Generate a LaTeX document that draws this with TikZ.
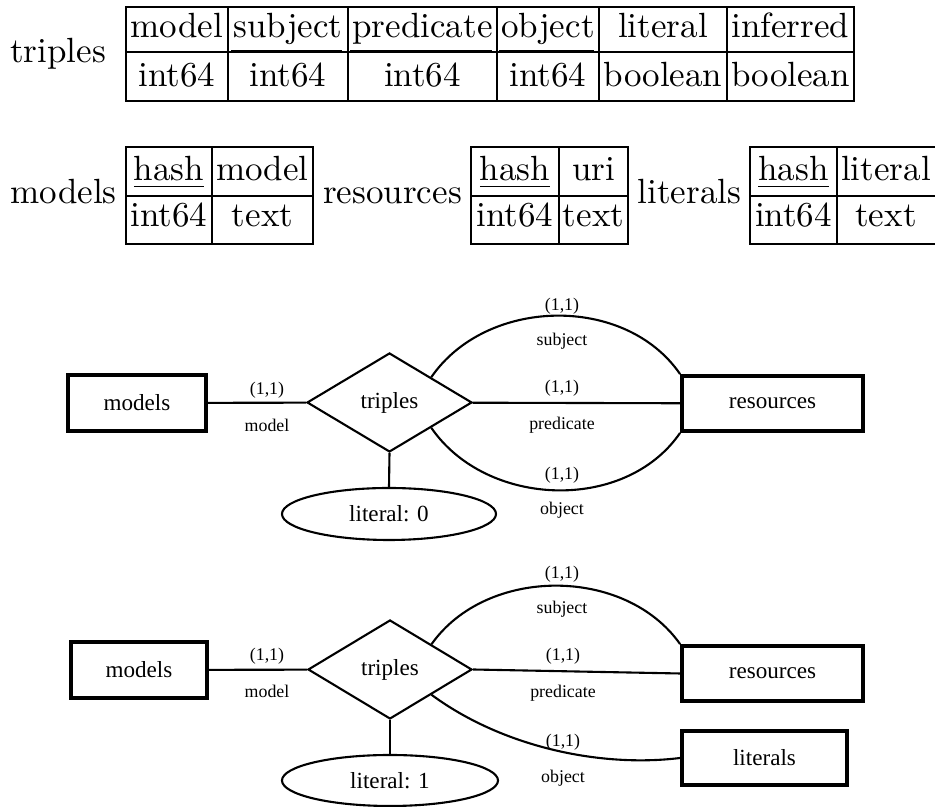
\documentclass[tikz,border=0pt]{standalone}
\usepackage{fontspec}
\newfontfamily\erfont{Liberation Serif}
\usetikzlibrary{shapes.geometric,calc}
\def\pxu{0.2857pt}
\begin{document}
\begin{tikzpicture}[x=\pxu,y=-\pxu,
  tbl/.style={line width=0.4pt},
  keyline/.style={line width=0.4pt},
  cell/.style={inner sep=0pt, anchor=base, font=\fontsize{10}{12}\selectfont},
  entity/.style={draw, rectangle, line width=1.1pt, inner sep=0pt, font=\erfont\fontsize{6.6}{8}\selectfont},
  rel/.style={draw, diamond, aspect=1.67, line width=0.6pt, inner sep=0pt, font=\erfont\fontsize{6.6}{8}\selectfont},
  attr/.style={draw, ellipse, line width=0.6pt, inner sep=0pt, font=\erfont\fontsize{6.6}{8}\selectfont},
  card/.style={inner sep=0pt, font=\erfont\fontsize{5.1}{6}\selectfont},
  link/.style={line width=0.6pt}]
\useasboundingbox (0,0) rectangle (935,807);

% ---------- relational schema: triples ----------
\node[cell] (ttriples) at (58,63) {triples};
\draw[tbl] (126,7) rectangle (854,101);
\draw[tbl] (126,52) -- (854,52);
\foreach \cx in {228,348,497,599,727} \draw[tbl] (\cx,7) -- (\cx,101);
\draw[keyline] (231,50.3) -- (342,50.3);
\draw[keyline] (350,50.3) -- (492,50.3);
\draw[keyline] (499,50.3) -- (594,50.3);
\node[cell] (h1) at (177,38) {model};
\node[cell] (h2) at (288,38) {subject};
\node[cell] (h3) at (422.5,38) {predicate};
\node[cell] (h4) at (548,38) {object};
\node[cell] (h5) at (663,38) {literal};
\node[cell] (h6) at (790.5,38) {inferred};
\node[cell] (d1) at (177,87) {int64};
\node[cell] (d2) at (288,87) {int64};
\node[cell] (d3) at (422.5,87) {int64};
\node[cell] (d4) at (548,87) {int64};
\node[cell] (d5) at (663,87) {boolean};
\node[cell] (d6) at (790.5,87) {boolean};

% ---------- relational schema: models, resources, literals ----------
\node[cell] (tmodels) at (63.5,204) {models};
\draw[tbl] (126,147) rectangle (313,244);
\draw[tbl] (126,196) -- (313,196);
\draw[tbl] (212,147) -- (212,244);
\node[cell] (mh1) at (169,181) {\underline{hash}};
\node[cell] (mh2) at (262.5,181) {model};
\node[cell] (md1) at (169,227) {int64};
\node[cell] (md2) at (262.5,227) {text};

\node[cell] (tresources) at (392.5,204) {resources};
\draw[tbl] (471,147) rectangle (628,244);
\draw[tbl] (471,196) -- (628,196);
\draw[tbl] (559,147) -- (559,244);
\node[cell] (rh1) at (515,181) {\underline{hash}};
\node[cell] (rh2) at (593.5,181) {uri};
\node[cell] (rd1) at (515,227) {int64};
\node[cell] (rd2) at (593.5,227) {text};

\node[cell] (tliterals) at (689.5,204) {literals};
\draw[tbl] (935,147) -- (750,147) -- (750,244) -- (935,244);
\draw[tbl] (750,196) -- (935,196);
\draw[tbl] (837,147) -- (837,244);
\node[cell] (lh1) at (793.5,181) {\underline{hash}};
\node[cell] (lh2) at (886,181) {literal};
\node[cell] (ld1) at (793.5,227) {int64};
\node[cell] (ld2) at (886,227) {text};

% ---------- ER diagram, literal: 0 ----------
\node[entity, minimum width=138*\pxu, minimum height=56*\pxu] (mod1) at (137,403) {models};
\node[rel, minimum width=165*\pxu, minimum height=99*\pxu] (tri1) at (389.5,402.5) {triples};
\node[entity, minimum width=181*\pxu, minimum height=55*\pxu] (res1) at (772.5,403.5) {resources};
\node[attr, minimum width=214*\pxu, minimum height=52*\pxu] (lit0) at (389,514) {literal: 0};

\draw[link] (mod1) -- (tri1);
\draw[link] (tri1) -- (res1);
\draw[link] (tri1.south) -- (lit0.north);
\draw[link] (tri1.north east) .. controls ($(tri1.north east)+(55,-80)$) and ($(res1.north west)+(-55,-80)$) .. (res1.north west);
\draw[link] (tri1.south east) .. controls ($(tri1.south east)+(55,80)$) and ($(res1.south west)+(-55,80)$) .. (res1.south west);

\node[card] (c1a) at (267,390) {(1,1)};
\node[card] (r1a) at (267,425) {model};
\node[card] (c1b) at (562,306) {(1,1)};
\node[card] (r1b) at (562,341) {subject};
\node[card] (c1c) at (562,388) {(1,1)};
\node[card] (r1c) at (562,425) {predicate};
\node[card] (c1d) at (562,475) {(1,1)};
\node[card] (r1d) at (562,510) {object};

% ---------- ER diagram, literal: 1 ----------
\node[entity, minimum width=136*\pxu, minimum height=56*\pxu] (mod2) at (139,670) {models};
\node[rel, minimum width=164*\pxu, minimum height=99*\pxu] (tri2) at (390,669.5) {triples};
\node[entity, minimum width=181*\pxu, minimum height=55*\pxu] (res2) at (772.5,673.5) {resources};
\node[entity, minimum width=165*\pxu, minimum height=54*\pxu] (lits) at (764.5,758) {literals};
\node[attr, minimum width=216*\pxu, minimum height=51*\pxu] (lit1) at (390,780.5) {literal: 1};

\draw[link] (mod2) -- (tri2);
\draw[link] (tri2.east) -- (res2.west);
\draw[link] (tri2.south) -- (lit1.north);
\draw[link] (tri2.north east) .. controls ($(tri2.north east)+(55,-78)$) and ($(res2.north west)+(-55,-78)$) .. (res2.north west);
\draw[link] (tri2.south east) .. controls ($(tri2.south east)+(69,51)$) and ($(lits.west)+(-82,10)$) .. (lits.west);

\node[card] (c2a) at (267,656) {(1,1)};
\node[card] (r2a) at (267,691) {model};
\node[card] (c2b) at (562,574) {(1,1)};
\node[card] (r2b) at (562,609) {subject};
\node[card] (c2c) at (563,656) {(1,1)};
\node[card] (r2c) at (563,693) {predicate};
\node[card] (c2d) at (563,742) {(1,1)};
\node[card] (r2d) at (563,778) {object};
\end{tikzpicture}
\end{document}
